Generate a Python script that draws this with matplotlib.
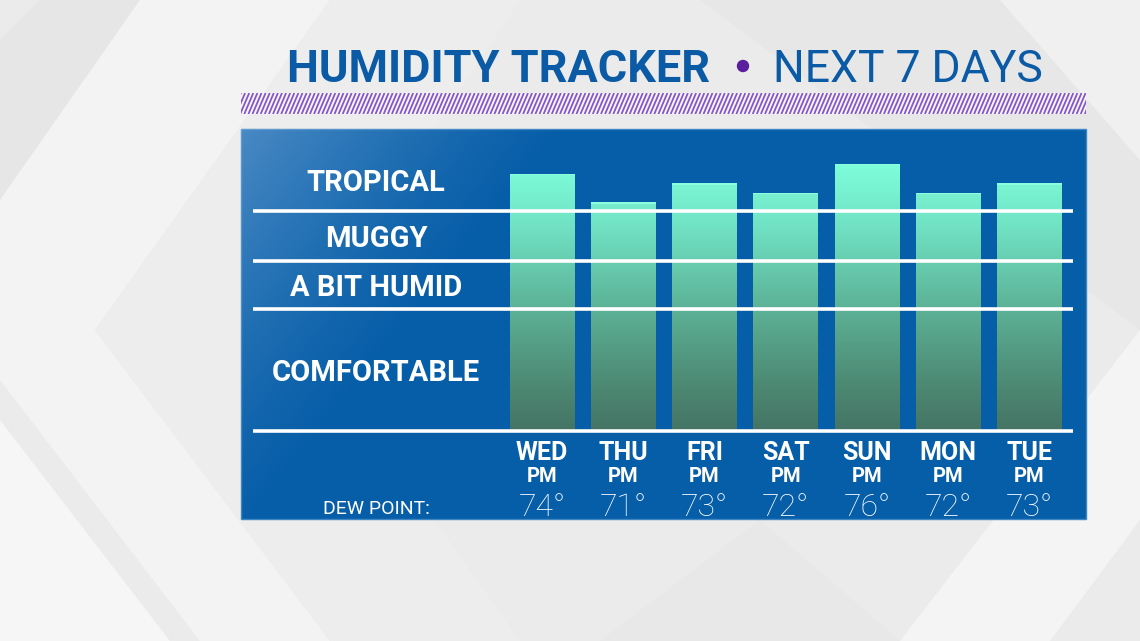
import numpy as np
import matplotlib
matplotlib.use("Agg")
import matplotlib.pyplot as plt
from matplotlib.patches import Rectangle, Polygon, Circle
from matplotlib.collections import LineCollection
from matplotlib.colors import LinearSegmentedColormap

# ---------------- data ----------------
days = ["WED", "THU", "FRI", "SAT", "SUN", "MON", "TUE"]
period = ["PM", "PM", "PM", "PM", "PM", "PM", "PM"]
dew_point = [74, 71, 73, 72, 76, 72, 73]
bar_level = [25.75, 22.87, 24.8, 23.85, 26.72, 23.85, 24.8]      # bar heights
band_names = ["COMFORTABLE", "A BIT HUMID", "MUGGY", "TROPICAL"]
band_edges = [0.0, 12.25, 17.0, 22.05, 28.15]                 # band boundaries (same scale)
title_bold = "HUMIDITY TRACKER"
title_light = "NEXT 7 DAYS"
footer_label = "DEW POINT:"

FONT = ["Roboto", "DejaVu Sans"]
plt.rcParams["font.family"] = FONT

W, H = 1140, 641
fig = plt.figure(figsize=(W / 100, H / 100), dpi=100)

# ---------------- background (pixel coordinates) ----------------
bg = fig.add_axes([0, 0, 1, 1])
bg.set_xlim(0, W)
bg.set_ylim(H, 0)
bg.axis("off")
bg.add_patch(Rectangle((0, 0), W, H, color="#ebebeb", zorder=0))
shapes = [
    ([(0, 40), (40, 0), (140, 0), (0, 200)], "#e6e6e6"),
    ([(140, 0), (330, 0), (95, 330), (330, 641), (200, 641), (0, 380), (0, 200)], "#f3f3f3"),
    ([(330, 0), (520, 0), (300, 330), (520, 641), (330, 641), (95, 330)], "#ededed"),
    ([(0, 420), (170, 641), (0, 641)], "#f6f6f6"),
    ([(700, 0), (1000, 0), (1140, 160), (1140, 330)], "#e7e7e7"),
    ([(1000, 0), (1140, 0), (1140, 160)], "#f0f0f0"),
    ([(1140, 330), (900, 641), (1050, 641), (1140, 520)], "#f4f4f4"),
    ([(600, 641), (760, 520), (900, 641)], "#e8e8e8"),
]
for pts, col in shapes:
    bg.add_patch(Polygon(pts, closed=True, color=col, lw=0, zorder=0.5))

# title
bg.text(287, 82, title_bold, fontsize=32.5, fontweight="bold", color="#0a5aa5",
        ha="left", va="baseline", zorder=5)
bg.add_patch(Circle((743, 66), 5.5, color="#5a1e9e", zorder=5))
bg.text(773, 82, title_light, fontsize=32, fontweight="normal", color="#0a5aa5",
        ha="left", va="baseline", zorder=5)

# hatched stripe band
band_rect = Rectangle((241, 93), 845, 21, facecolor="#f7f7f7", edgecolor="none", zorder=2)
bg.add_patch(band_rect)
segs = [[(x0, 114), (x0 + 9, 93)] for x0 in np.arange(232, 1090, 4.1)]
lc = LineCollection(segs, colors="#8656cc", linewidths=1.3, zorder=3)
bg.add_collection(lc)
lc.set_clip_path(band_rect)

# panel
bg.add_patch(Rectangle((241, 129), 845, 390, facecolor="#075ea8",
                       edgecolor="#3f86c4", lw=1, zorder=2))
yy, xx = np.mgrid[129:519, 241:1086]
d = ((xx - 241) + 0.8 * (yy - 129)) / 330.0
alpha = np.clip(1 - d, 0, 1) ** 1.3 * 0.55
overlay = np.zeros(xx.shape + (4,))
overlay[..., 0] = 0.50
overlay[..., 1] = 0.68
overlay[..., 2] = 0.86
overlay[..., 3] = alpha
bg.imshow(overlay, extent=(241, 1086, 519, 129), origin="upper", aspect="auto",
          zorder=2.5, interpolation="bilinear")

# ---------------- chart axes (aligned to panel) ----------------
ax = fig.add_axes([241 / W, (H - 519) / H, 845 / W, 390 / H])
ax.set_xlim(-3.705, 6.695)
ax.set_ylim(-8.8, 30.2)
ax.axis("off")
ax.patch.set_visible(False)

x = np.arange(len(days))
bars = ax.bar(x, bar_level, width=0.8, color="none", edgecolor="none", zorder=3)

cmap = LinearSegmentedColormap.from_list(
    "hum", [(0.0, "#457464"), (0.18, "#4d8a74"), (0.5, "#5fb89c"),
            (0.78, "#72e4c6"), (1.0, "#7efedb")])
grad = np.linspace(0, 1, 256).reshape(-1, 1)
top = max(bar_level)
for b in bars:
    im = ax.imshow(grad, cmap=cmap, extent=(-0.5, len(days) - 0.5, 0, top),
                   origin="lower", aspect="auto", zorder=3, interpolation="bilinear")
    im.set_clip_path(b)
    ax.add_patch(Rectangle((b.get_x(), b.get_height() - 0.15), b.get_width(), 0.15,
                           color="#8dfde0", lw=0, zorder=3.2))

# band lines
ax.hlines(band_edges[:4], -3.557, 6.535, color="white", lw=2.6, zorder=4)

# band labels
for i, name in enumerate(band_names):
    mid = (band_edges[i] + band_edges[i + 1]) / 2
    ax.text(-2.043, mid - 1.1, name, fontsize=21, fontweight="bold", color="white",
            ha="center", va="baseline", zorder=5)

# day labels
for i in range(len(days)):
    ax.text(x[i], -2.9, days[i], fontsize=18, fontweight="bold", color="white",
            ha="center", va="baseline", zorder=5)
    ax.text(x[i], -5.14, period[i], fontsize=14.5, fontweight="bold", color="white",
            ha="center", va="baseline", zorder=5)
    ax.text(x[i], -8.5, f"{dew_point[i]}°", fontsize=23, fontweight="light", color="white",
            ha="center", va="baseline", zorder=5)
ax.text(-2.043, -8.33, footer_label, fontsize=14, fontweight="normal", color="white",
        ha="center", va="baseline", zorder=5)

fig.savefig("out.png", dpi=100)
